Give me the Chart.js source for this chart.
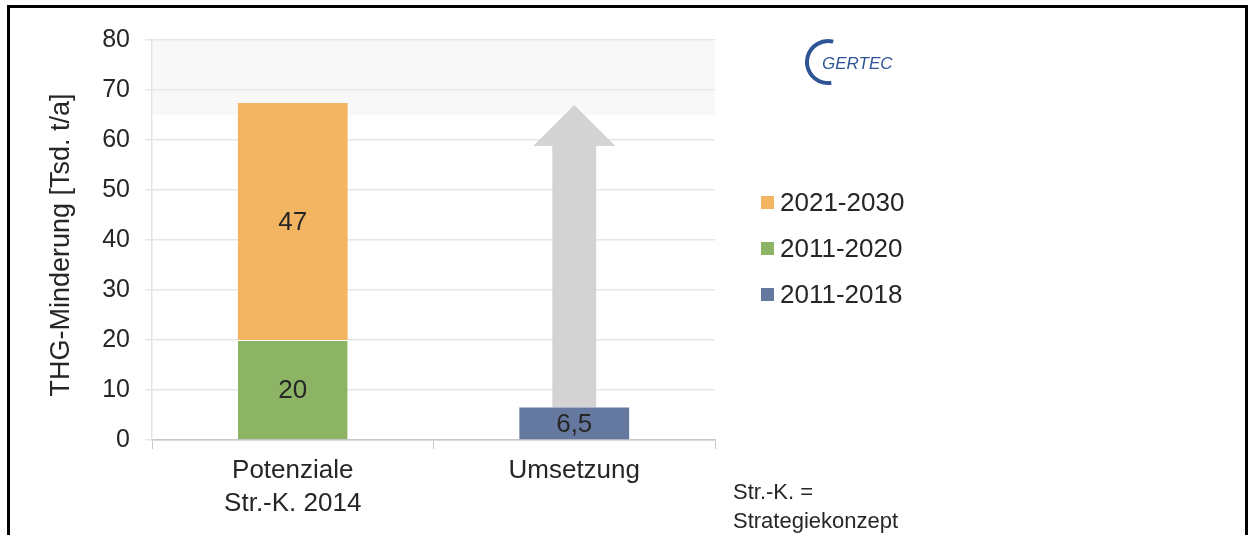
<!DOCTYPE html>
<html><head><meta charset="utf-8">
<script src="https://cdn.jsdelivr.net/npm/chart.js@4/dist/chart.umd.min.js"></script>
<style>
html,body{margin:0;padding:0;background:#fff;}
#wrap{position:relative;width:1249px;height:535px;overflow:hidden;}
#frame{position:absolute;left:7px;top:5px;width:1241px;height:620px;border:3px solid #000;box-sizing:border-box;pointer-events:none}
canvas{position:absolute;left:0;top:0}
</style></head><body>
<div id="wrap"><canvas id="c" width="1249" height="535"></canvas><div id="frame"></div></div>
<script>
// ---- data ----
const categories = [["Potenziale", "Str.-K. 2014"], "Umsetzung"];
const series2011_2020 = [20, null];
const series2021_2030 = [47.4, null];
const series2011_2018 = [null, 6.5];
const labels2011_2020 = ["20", ""];
const labels2021_2030 = ["47", ""];
const labels2011_2018 = ["", "6,5"];
const yTickValues = [0, 10, 20, 30, 40, 50, 60, 70, 80];
const arrowTarget = 67;         // Umsetzung arrow points up toward the potential total
const bandFrom = 65, bandTo = 80; // pale highlight band
const legendOrder = ["2021-2030", "2011-2020", "2011-2018"];
const footnote = ["Str.-K. =", "Strategiekonzept"];
const yTitle = "THG-Minderung [Tsd. t/a]";

const FONT = "'Liberation Sans', Arial, sans-serif";
const TXT = '#262626';

const datasets = [
  {label: "2011-2020", data: series2011_2020, backgroundColor: '#8db465', borderColor: '#ffffff', borderWidth: {top: 1}, borderSkipped: false, valueLabels: labels2011_2020},
  {label: "2021-2030", data: series2021_2030, backgroundColor: '#f4b563', borderColor: '#ffffff', borderWidth: 0, valueLabels: labels2021_2030},
  {label: "2011-2018", data: series2011_2018, backgroundColor: '#65789f', borderColor: '#ffffff', borderWidth: 0, valueLabels: labels2011_2018}
];

const decor = {
  id: 'decor',
  beforeDatasetsDraw(chart) {
    const {ctx, chartArea: a, scales: {x, y}} = chart;
    ctx.save();
    // pale band
    ctx.fillStyle = 'rgba(235,235,235,0.35)';
    ctx.fillRect(a.left + 1, y.getPixelForValue(bandTo), a.right - a.left - 1, y.getPixelForValue(bandFrom) - y.getPixelForValue(bandTo));
    // arrow on Umsetzung
    const meta = chart.getDatasetMeta(2);
    const bar = meta.data[1];
    const cx = bar.x;
    const bw = bar.width;
    const tipY = y.getPixelForValue(arrowTarget);
    const headLen = 41;
    const baseY = y.getPixelForValue(series2011_2018[1]);
    ctx.fillStyle = '#d3d3d3';
    ctx.beginPath();
    ctx.moveTo(cx - bw * 0.2, baseY);
    ctx.lineTo(cx - bw * 0.2, tipY + headLen);
    ctx.lineTo(cx - bw * 0.375, tipY + headLen);
    ctx.lineTo(cx, tipY);
    ctx.lineTo(cx + bw * 0.375, tipY + headLen);
    ctx.lineTo(cx + bw * 0.2, tipY + headLen);
    ctx.lineTo(cx + bw * 0.2, baseY);
    ctx.closePath();
    ctx.fill();
    ctx.restore();
  },
  afterDatasetsDraw(chart) {
    const {ctx} = chart;
    ctx.save();
    ctx.font = `26px ${FONT}`;
    ctx.fillStyle = TXT;
    ctx.textAlign = 'center';
    ctx.textBaseline = 'middle';
    chart.data.datasets.forEach((ds, i) => {
      chart.getDatasetMeta(i).data.forEach((el, j) => {
        const t = ds.valueLabels[j];
        if (!t || ds.data[j] == null) return;
        ctx.fillText(t, el.x, (el.y + el.base) / 2 + 1);
      });
    });
    ctx.restore();
  },
  afterDraw(chart) {
    const {ctx} = chart;
    ctx.save();
    // y title
    ctx.font = `27px ${FONT}`;
    ctx.fillStyle = TXT;
    ctx.textAlign = 'center';
    ctx.textBaseline = 'middle';
    ctx.translate(62, 245);
    ctx.rotate(-Math.PI / 2);
    ctx.fillText(yTitle, 0, 0);
    ctx.restore();

    // legend
    ctx.save();
    ctx.font = `26px ${FONT}`;
    ctx.textBaseline = 'middle';
    ctx.textAlign = 'left';
    legendOrder.forEach((name, k) => {
      const ds = chart.data.datasets.find(d => d.label === name);
      const yy = 203 + k * 46;
      ctx.fillStyle = ds.backgroundColor;
      ctx.fillRect(761, yy - 7, 13, 13);
      ctx.fillStyle = TXT;
      ctx.fillText(name, 780, yy + 1);
    });
    // footnote
    ctx.font = `22px ${FONT}`;
    footnote.forEach((t, k) => ctx.fillText(t, 733, 493 + k * 29));
    ctx.restore();

    // logo
    ctx.save();
    ctx.strokeStyle = '#2f5597';
    ctx.fillStyle = '#2f5597';
    ctx.lineWidth = 4;
    ctx.beginPath();
    ctx.arc(828, 62, 21, -Math.PI * 0.42, Math.PI * 0.45, true);
    ctx.stroke();
    ctx.font = `italic 17px ${FONT}`;
    ctx.textBaseline = 'alphabetic';
    ctx.fillText("GERTEC", 822, 69);
    ctx.restore();
  }
};

new Chart(document.getElementById('c'), {
  type: 'bar',
  data: {labels: categories, datasets},
  options: {
    responsive: false,
    animation: false,
    events: [],
    layout: {padding: {left: 2, top: 40, right: 534, bottom: 0}},
    categoryPercentage: 1,
    barPercentage: 0.39,
    plugins: {legend: {display: false}, tooltip: {enabled: false}, title: {display: false}},
    scales: {
      x: {
        stacked: true,
        grid: {offset: true, drawOnChartArea: false, drawTicks: true, tickLength: 9, color: '#c8c8c8'},
        border: {color: '#c8c8c8', width: 1.5},
        ticks: {font: {size: 26, family: FONT, lineHeight: 1.25}, color: TXT, padding: 6, maxRotation: 0},
        afterFit(s) { s.height = 95; }
      },
      y: {
        stacked: true,
        min: 0, max: 80,
        afterBuildTicks(s) { s.ticks = yTickValues.map(v => ({value: v})); },
        grid: {color: '#e6e6e6', tickLength: 7, lineWidth: 1.5},
        border: {color: '#e3e3e3', width: 1.5},
        ticks: {font: {size: 25, family: FONT}, color: TXT, padding: 15},
        afterFit(s) { s.width = 150; }
      }
    }
  },
  plugins: [decor]
});
</script>
</body></html>
